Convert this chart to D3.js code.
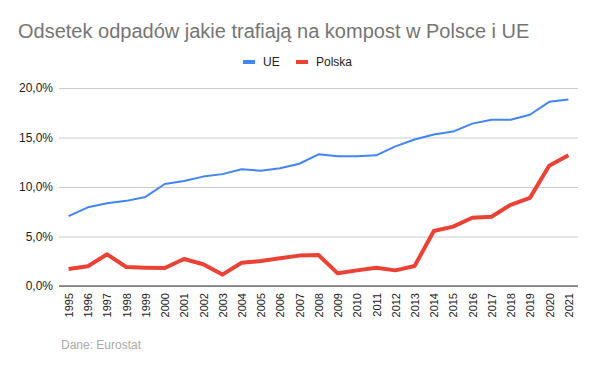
<!DOCTYPE html>
<html>
<head>
<meta charset="utf-8">
<script src="https://cdn.jsdelivr.net/npm/d3@7"></script>
<style>
  body { margin: 0; background: #fff; }
  text { font-family: "Liberation Sans", Arial, sans-serif; }
</style>
</head>
<body>
<div id="chart"></div>
<script>
// dane (%)
const years = [1995, 1996, 1997, 1998, 1999, 2000, 2001, 2002, 2003, 2004, 2005, 2006, 2007,
  2008, 2009, 2010, 2011, 2012, 2013, 2014, 2015, 2016, 2017, 2018, 2019, 2020, 2021];
const ue = [7.05, 7.95, 8.35, 8.6, 9.0, 10.3, 10.6, 11.05, 11.3, 11.8, 11.65, 11.9, 12.35,
  13.3, 13.1, 13.1, 13.2, 14.1, 14.8, 15.3, 15.6, 16.4, 16.8, 16.8, 17.3, 18.6, 18.85];
const polska = [1.72, 2.0, 3.2, 1.92, 1.85, 1.82, 2.73, 2.2, 1.15, 2.35, 2.52, 2.8, 3.07,
  3.13, 1.28, 1.58, 1.85, 1.58, 2.02, 5.55, 6.0, 6.9, 7.0, 8.2, 8.9, 12.15, 13.2];
const yTicks = [0, 5, 10, 15, 20];

const width = 597, height = 371;
const plotLeft = 59, plotRight = 578, plotTop = 88, plotBottom = 286;

const svg = d3.select('#chart')
  .append('svg')
  .attr('width', width)
  .attr('height', height);

const x = d3.scalePoint()
  .domain(years)
  .range([plotLeft, plotRight])
  .padding(0.5);

const y = d3.scaleLinear()
  .domain([0, 20])
  .range([plotBottom, plotTop]);

// tytuł
svg.append('text')
  .attr('x', 18)
  .attr('y', 38)
  .attr('font-size', 20)
  .attr('fill', '#757575')
  .text('Odsetek odpadów jakie trafiają na kompost w Polsce i UE');

// legenda
const legend = [
  { name: 'UE', color: '#4285f4', x: 243 },
  { name: 'Polska', color: '#ea4335', x: 296 }
];
legend.forEach(d => {
  svg.append('rect')
    .attr('x', d.x).attr('y', 60)
    .attr('width', 12).attr('height', 4)
    .attr('fill', d.color);
  svg.append('text')
    .attr('x', d.x + 20).attr('y', 66)
    .attr('font-size', 12)
    .attr('fill', '#222')
    .text(d.name);
});

// siatka i oś Y
const fmt = v => v.toFixed(1).replace('.', ',') + '%';
const yAxis = svg.append('g')
  .attr('transform', `translate(${plotLeft},0)`)
  .call(d3.axisLeft(y).tickValues(yTicks).tickSize(-(plotRight - plotLeft)).tickFormat(fmt));
yAxis.select('.domain').remove();
yAxis.selectAll('.tick line').attr('stroke', '#cccccc');
yAxis.selectAll('.tick text')
  .attr('x', -6)
  .attr('font-size', 12)
  .attr('fill', '#222');

// linia bazowa
svg.append('line')
  .attr('x1', plotLeft).attr('x2', plotRight)
  .attr('y1', y(0)).attr('y2', y(0))
  .attr('stroke', '#333');

// oś X z obróconymi etykietami
const xAxis = svg.append('g')
  .attr('transform', `translate(0,${plotBottom})`)
  .call(d3.axisBottom(x).tickSize(0));
xAxis.select('.domain').remove();
xAxis.selectAll('.tick text')
  .attr('transform', 'rotate(-90)')
  .attr('text-anchor', 'end')
  .attr('dy', '0.35em')
  .attr('x', -7)
  .attr('y', 0)
  .attr('font-size', 11)
  .attr('fill', '#222');

// linie
const line = d3.line()
  .x((d, i) => x(years[i]))
  .y(d => y(d));

svg.append('path')
  .datum(ue)
  .attr('d', line)
  .attr('fill', 'none')
  .attr('stroke', '#4285f4')
  .attr('stroke-width', 2)
  .attr('stroke-linejoin', 'round');

svg.append('path')
  .datum(polska)
  .attr('d', line)
  .attr('fill', 'none')
  .attr('stroke', '#ea4335')
  .attr('stroke-width', 4)
  .attr('stroke-linejoin', 'round');

// źródło
svg.append('text')
  .attr('x', 61)
  .attr('y', 349)
  .attr('font-size', 12)
  .attr('fill', '#aaaaaa')
  .text('Dane: Eurostat');
</script>
</body>
</html>
